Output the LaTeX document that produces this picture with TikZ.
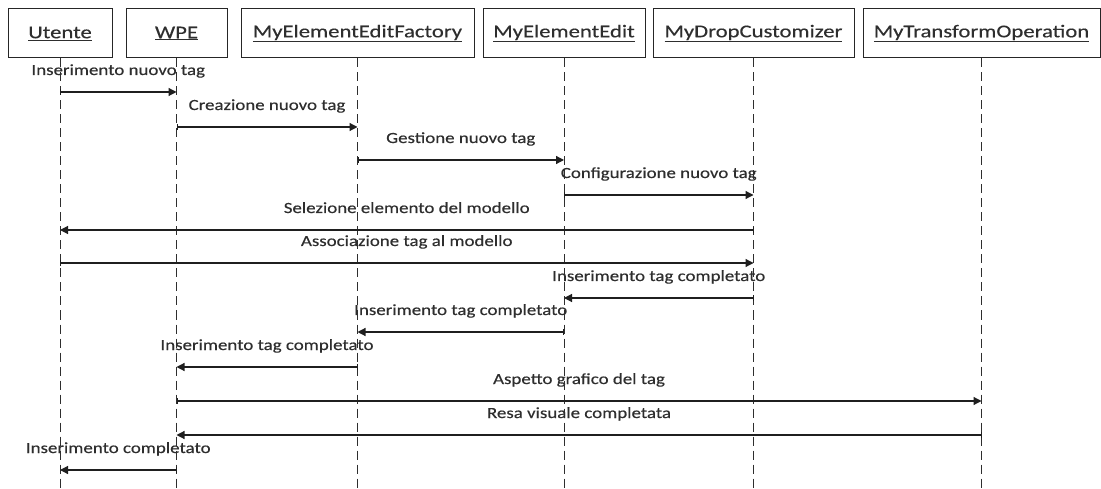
\documentclass[tikz,border=0pt]{standalone}
\usepackage{fontspec}
\setmainfont{Carlito}
\newfontfamily\boxfont[FakeStretch=1.26,FakeBold=0.3]{Carlito}
\newfontfamily\msgfont[FakeStretch=1.22,FakeBold=0.3]{Carlito}
\usetikzlibrary{arrows.meta}

\begin{document}
\begin{tikzpicture}[x=1pt,y=-1pt,
  actor/.style={draw=black!85, line width=1pt, minimum height=49pt, inner sep=0pt,
    font=\boxfont\fontsize{18}{22}\selectfont, text=black!82},
  life/.style={draw=black!82, line width=1pt, dash pattern=on 9pt off 5pt},
  msg/.style={draw=black!88, line width=1.2pt,
    {Bar[width=6pt,line width=0.8pt]}-{Triangle[length=8pt,width=8pt]}},
  lbl/.style={font=\msgfont\fontsize{15.5}{19}\selectfont, text=black!82, inner sep=0pt,
    anchor=base, yshift=17pt}]
\useasboundingbox (0,0) rectangle (1101,489);
\fill[white] (0,0) rectangle (1101,489);

% participants
\node[actor, minimum width=104pt] (U) at (60,33.5)    {\underline{Utente}};
\node[actor, minimum width=101pt] (W) at (176.5,33.5) {\underline{WPE}};
\node[actor, minimum width=233pt] (F) at (357.5,33.5) {\underline{MyElementEditFactory}};
\node[actor, minimum width=162pt] (E) at (564,33.5)   {\underline{MyElementEdit}};
\node[actor, minimum width=201pt] (D) at (753.5,33.5) {\underline{MyDropCustomizer}};
\node[actor, minimum width=237pt] (T) at (981.5,33.5) {\underline{MyTransformOperation}};

% lifelines
\foreach \p in {U,W,F,E,D,T} {
  \coordinate (\p end) at (\p.south |- 0,489);
  \draw[life] (\p.south) -- (\p end);
}

% messages
\draw[msg] (U |- 0,92)  -- node[lbl]{Inserimento nuovo tag} (W |- 0,92);
\draw[msg] (W |- 0,127) -- node[lbl]{Creazione nuovo tag} (F |- 0,127);
\draw[msg] (F |- 0,160) -- node[lbl]{Gestione nuovo tag} (E |- 0,160);
\draw[msg] (E |- 0,195) -- node[lbl]{Configurazione nuovo tag} (D |- 0,195);
\draw[msg] (D |- 0,230) -- node[lbl]{Selezione elemento del modello} (U |- 0,230);
\draw[msg] (U |- 0,263) -- node[lbl]{Associazione tag al modello} (D |- 0,263);
\draw[msg] (D |- 0,298) -- node[lbl]{Inserimento tag completato} (E |- 0,298);
\draw[msg] (E |- 0,332) -- node[lbl]{Inserimento tag completato} (F |- 0,332);
\draw[msg] (F |- 0,367) -- node[lbl]{Inserimento tag completato} (W |- 0,367);
\draw[msg] (W |- 0,401) -- node[lbl]{Aspetto grafico del tag} (T |- 0,401);
\draw[msg] (T |- 0,435) -- node[lbl]{Resa visuale completata} (W |- 0,435);
\draw[msg] (W |- 0,470) -- node[lbl]{Inserimento completato} (U |- 0,470);
\end{tikzpicture}
\end{document}
